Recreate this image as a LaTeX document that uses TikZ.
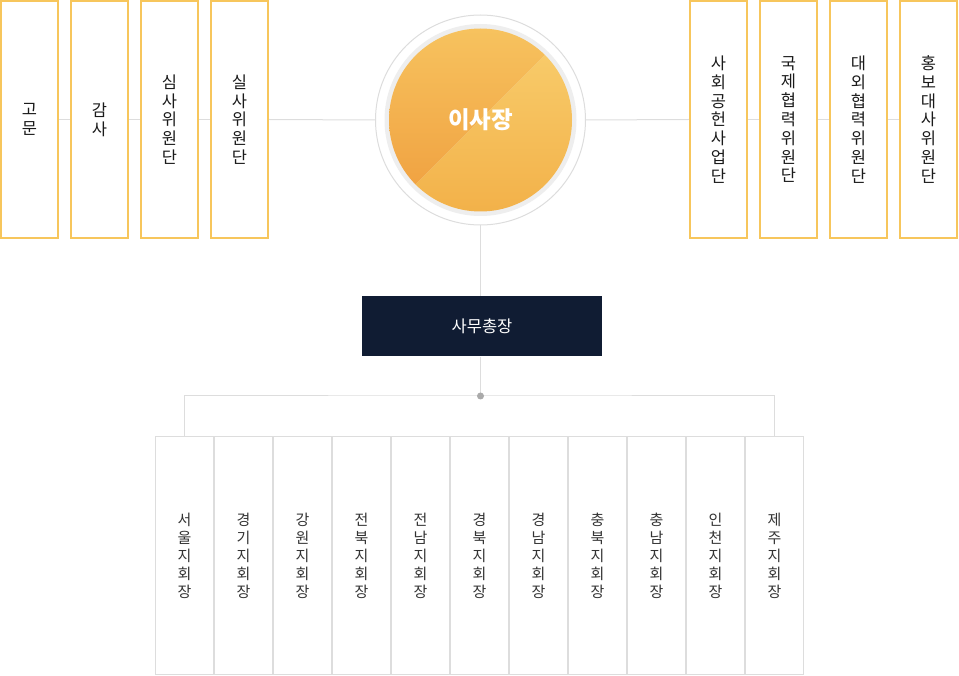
\documentclass[tikz,border=0pt]{standalone}
\usepackage{fontspec}
\setmainfont{Noto Sans CJK KR}
\usetikzlibrary{backgrounds}
\definecolor{obord}{HTML}{F7C65C}
\definecolor{lgray}{HTML}{DDDDDD}
\definecolor{band}{HTML}{EEEEEE}
\definecolor{navy}{HTML}{101C33}
\definecolor{txt}{HTML}{1A1A1A}
\definecolor{btxt}{HTML}{333333}
\definecolor{dotc}{HTML}{AAAAAA}
\definecolor{oA}{HTML}{F7C460}
\definecolor{oB}{HTML}{EF9C3C}
\definecolor{oC}{HTML}{F9D070}
\definecolor{oD}{HTML}{F2B048}
\begin{document}
\begin{tikzpicture}[x=1pt,y=1pt,
  topbox/.style={draw=obord,line width=2pt,fill=white,minimum width=57pt,minimum height=237pt,inner sep=0pt,align=center,text=txt,font=\fontsize{16.5}{18.8}\selectfont},
  botbox/.style={draw=lgray,line width=1pt,fill=white,minimum width=58pt,minimum height=238pt,inner sep=0pt,align=center,text=btxt,font=\fontsize{15}{18}\selectfont},
  conn/.style={draw=lgray,line width=1pt}]
\useasboundingbox (0,0) rectangle (959,-676);
% left boxes
\node[topbox] (g1) at (29.5,-119.5) {고\\문};
\node[topbox] (g2) at (99.5,-119.5) {감\\사};
\node[topbox] (g3) at (169.5,-119.5) {심\\사\\위\\원\\단};
\node[topbox] (g4) at (239.5,-119.5) {실\\사\\위\\원\\단};
% right boxes
\node[topbox] (h1) at (718.5,-119.5) {사\\회\\공\\헌\\사\\업\\단};
\node[topbox] (h2) at (788.5,-119.5) {국\\제\\협\\력\\위\\원\\단};
\node[topbox] (h3) at (858.5,-119.5) {대\\외\\협\\력\\위\\원\\단};
\node[topbox] (h4) at (928.5,-119.5) {홍\\보\\대\\사\\위\\원\\단};
% chairman circle
\node[circle,draw=lgray,line width=1pt,fill=white,minimum size=210pt,inner sep=0pt] (ceo) at (480.5,-120) {};
\fill[band] (ceo.center) circle (96);
\begin{scope}
  \clip (ceo.center) circle (91.5);
  \shade[top color=oA,bottom color=oB] (380,-220) -- (580,-20) -- (380,-20) -- cycle;
  \shade[top color=oC,bottom color=oD] (380,-220) -- (580,-20) -- (580,-220) -- cycle;
\end{scope}
\node[text=white,font=\fontsize{23.5}{27}\selectfont\bfseries] (ceot) at (ceo.center) {이사장};
% top connectors
\begin{scope}[on background layer]
\draw[conn] (g1.east) -- (g2.west);
\draw[conn] (g2.east) -- (g3.west);
\draw[conn] (g3.east) -- (g4.west);
\draw[conn] (g4.east) -- (ceo.west);
\draw[conn] (ceo.east) -- (h1.west);
\draw[conn] (h1.east) -- (h2.west);
\draw[conn] (h2.east) -- (h3.west);
\draw[conn] (h3.east) -- (h4.west);
\end{scope}
% secretary general
\node[fill=navy,minimum width=240pt,minimum height=60pt,inner sep=0pt,text=white,font=\fontsize{16.5}{19}\selectfont] (sg) at (482,-326.5) {사무총장};
\draw[conn] (ceo.south) -- (ceo.south |- sg.north);
% bottom boxes
\foreach \i/\t in {1/서\\울\\지\\회\\장,2/경\\기\\지\\회\\장,3/강\\원\\지\\회\\장,4/전\\북\\지\\회\\장,5/전\\남\\지\\회\\장,6/경\\북\\지\\회\\장,7/경\\남\\지\\회\\장,8/충\\북\\지\\회\\장,9/충\\남\\지\\회\\장,10/인\\천\\지\\회\\장,11/제\\주\\지\\회\\장}{
  \node[botbox] (r\i) at ({184.5+59*(\i-1)},-555.5) {\t};
}
\coordinate (hub) at (ceo.south |- 0,-396);
\draw[conn] (ceo.south |- sg.south) -- (hub);
\draw[conn] (r1.north) |- (hub) -| (r11.north);
\fill[dotc] (hub) circle (3.5);
\end{tikzpicture}
\end{document}
